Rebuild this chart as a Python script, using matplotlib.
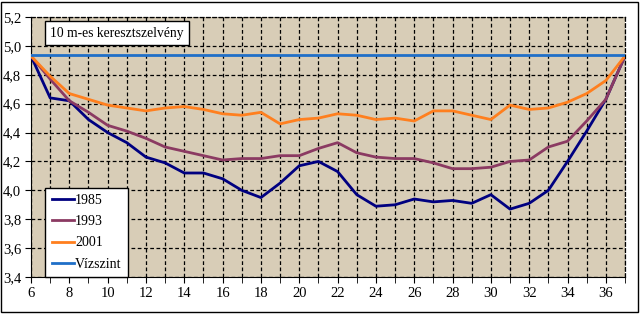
import matplotlib
matplotlib.use("Agg")
import matplotlib.pyplot as plt
from matplotlib.ticker import MultipleLocator, FuncFormatter
from matplotlib.patches import Rectangle

x = list(range(6, 38))

y1985 = [4.93, 4.64, 4.62, 4.49, 4.40, 4.33, 4.23, 4.19, 4.12, 4.12, 4.08, 4.00,
         3.95, 4.05, 4.17, 4.20, 4.13, 3.97, 3.89, 3.90, 3.94, 3.92, 3.93, 3.91,
         3.97, 3.87, 3.91, 4.00, 4.20, 4.41, 4.63, 4.93]
y1993 = [4.93, 4.77, 4.62, 4.54, 4.45, 4.41, 4.36, 4.30, 4.27, 4.24, 4.21, 4.22,
         4.22, 4.24, 4.24, 4.29, 4.33, 4.26, 4.23, 4.22, 4.22, 4.19, 4.15, 4.15,
         4.16, 4.20, 4.21, 4.30, 4.34, 4.48, 4.63, 4.93]
y2001 = [4.93, 4.79, 4.67, 4.63, 4.59, 4.57, 4.55, 4.57, 4.58, 4.56, 4.53, 4.52,
         4.54, 4.46, 4.49, 4.50, 4.53, 4.52, 4.49, 4.50, 4.48, 4.55, 4.55, 4.52,
         4.49, 4.59, 4.56, 4.57, 4.61, 4.67, 4.76, 4.93]
vizszint = [4.94] * len(x)

labels = ["1985", "1993", "2001", "Vízszint"]
colors = ["#000080", "#8B3A62", "#FF7F1E", "#1F6FC8"]

plt.rcParams["font.family"] = ["Liberation Serif", "DejaVu Serif"]

fig = plt.figure(figsize=(6.42, 3.14), dpi=100)
# outer chart frame
fig.patches.append(Rectangle((1 / 642, 2 / 314), 637 / 642, 310 / 314,
                             transform=fig.transFigure, fill=False,
                             edgecolor="black", linewidth=1))
ax = fig.add_axes([31 / 642, 37 / 314, 594 / 642, 260 / 314])
ax.set_facecolor("#D8CDB7")

for ys, lab, c in zip([y1985, y1993, y2001, vizszint], labels, colors):
    ax.plot(x, ys, color=c, linewidth=2, label=lab, zorder=3)

ax.set_xlim(6, 37)
ax.set_ylim(3.4, 5.2)
ax.xaxis.set_major_locator(MultipleLocator(2))
ax.xaxis.set_minor_locator(MultipleLocator(1))
ax.yaxis.set_major_locator(MultipleLocator(0.2))
ax.yaxis.set_major_formatter(FuncFormatter(lambda v, p: f"{v:.1f}".replace(".", ",")))
ax.grid(True, which="both", axis="x", color="black", linestyle=(0, (3, 2)), linewidth=0.9)
ax.grid(True, which="major", axis="y", color="black", linestyle=(0, (3, 2)), linewidth=0.9)
ax.tick_params(axis="both", which="major", labelsize=10.5, length=4, direction="out", pad=3)
ax.tick_params(axis="x", which="minor", length=4, direction="out")
for s in ["top", "right"]:
    ax.spines[s].set_linestyle((0, (3, 2)))
    ax.spines[s].set_linewidth(0.9)

ax.text(0.032, 0.937, "10 m-es keresztszelvény", transform=ax.transAxes,
        fontsize=9.8, va="center", ha="left", zorder=5,
        bbox=dict(boxstyle="square,pad=0.4", facecolor="white", edgecolor="black", linewidth=1))

leg = ax.legend(loc="lower left", bbox_to_anchor=(0.024, 0.0), fontsize=10,
                frameon=True, fancybox=False, edgecolor="black", framealpha=1,
                handlelength=1.6, handletextpad=0.1, labelspacing=0.6,
                borderpad=0.45, borderaxespad=0)
leg.get_frame().set_linewidth(1)
leg.set_zorder(6)

fig.savefig("out.png", dpi=100)
